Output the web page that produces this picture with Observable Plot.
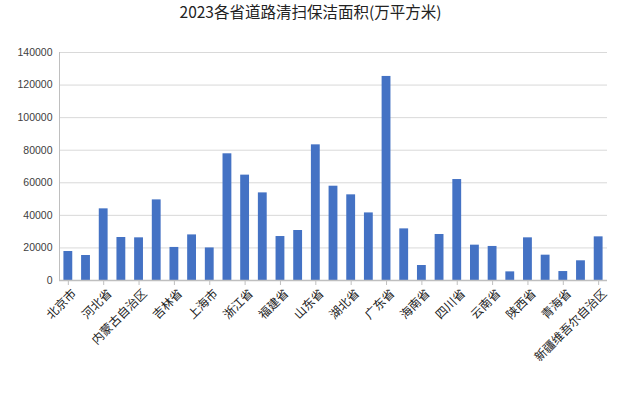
<!DOCTYPE html>
<html><head><meta charset="utf-8">
<script src="https://cdn.jsdelivr.net/npm/d3@7"></script>
<script src="https://cdn.jsdelivr.net/npm/@observablehq/plot@0.6"></script>
<style>
body{margin:0;background:#fff;}
#title{height:38px;line-height:54px;overflow:visible;text-align:center;font:15.5px "Noto Sans CJK SC",sans-serif;color:#222;width:621px;}
</style></head>
<body>
<div id="title">2023各省道路清扫保洁面积(万平方米)</div>
<div id="chart"></div>
<script>
const provinces = ["北京市","天津市","河北省","山西省","内蒙古自治区","辽宁省","吉林省","黑龙江省","上海市","江苏省","浙江省","安徽省","福建省","江西省","山东省","河南省","湖北省","湖南省","广东省","广西壮族自治区","海南省","重庆市","四川省","贵州省","云南省","西藏自治区","陕西省","甘肃省","青海省","宁夏回族自治区","新疆维吾尔自治区"];
const areas = [17800,15350,44000,26400,26200,49500,20300,28000,20000,77800,64700,53800,27000,30700,83300,57900,52600,41500,125300,31700,9200,28250,62000,21700,20900,5300,26200,15550,5500,12100,26800];
const yTicks = [0,20000,40000,60000,80000,100000,120000,140000];
const data = provinces.map((p,i)=>({province:p, value:areas[i]}));
const labeled = provinces.filter((d,i)=>i%2===0);

const chart = Plot.plot({
  width:621, height:355,
  marginTop:14, marginBottom:113, marginLeft:59, marginRight:14,
  style:{fontFamily:"'Noto Sans CJK SC', sans-serif", fontSize:"11px", color:"#333"},
  x:{domain:provinces, paddingInner:0.5, paddingOuter:0.25, round:false},
  y:{domain:[0,140000]},
  marks:[
    Plot.gridY(yTicks,{stroke:"#d9d9d9", strokeOpacity:1}),
    Plot.barY(data,{x:"province", y:"value", fill:"#4472C4"}),
    Plot.ruleY([0],{stroke:"#bfbfbf", strokeWidth:1.5}),
    Plot.axisY(yTicks,{tickSize:0, tickPadding:7, label:null, tickFormat:d=>String(d), fontSize:10.5, fontFamily:"'Liberation Sans', Arial, sans-serif", fill:"#404040"}),
    Plot.axisX(labeled,{tickSize:5, stroke:"#bfbfbf", label:null, text:null}),
    Plot.axisX(labeled,{tickSize:0, tickRotate:-45, label:null, fontSize:12, fill:"#222", tickPadding:8, dx:6, dy:3})
  ]
});
document.getElementById("chart").appendChild(chart);
const svg = d3.select(chart);
svg.append("line").attr("x1",59.5).attr("x2",59.5).attr("y1",14).attr("y2",242).attr("stroke","#bfbfbf");
</script>
</body></html>
